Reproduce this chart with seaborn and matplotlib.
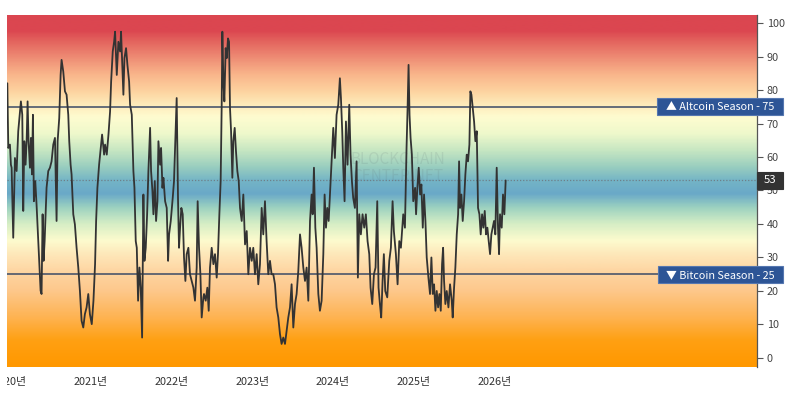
import numpy as np
import pandas as pd
import matplotlib
matplotlib.use("Agg")
import matplotlib.pyplot as plt
import matplotlib.dates as mdates
from matplotlib.colors import LinearSegmentedColormap
from matplotlib.patches import Rectangle
from matplotlib.transforms import Bbox, TransformedBbox, blended_transform_factory
import seaborn as sns

# ---------------- data ----------------
year_frac = [
    2019.967, 2019.979, 2020.000, 2020.012, 2020.021, 2020.041, 2020.062, 2020.083, 2020.103, 2020.124,
    2020.136, 2020.153, 2020.165, 2020.178, 2020.194, 2020.207, 2020.219, 2020.231, 2020.248, 2020.260,
    2020.273, 2020.285, 2020.297, 2020.314, 2020.330, 2020.351, 2020.363, 2020.380, 2020.392, 2020.405,
    2020.417, 2020.430, 2020.442, 2020.454, 2020.475, 2020.496, 2020.516, 2020.537, 2020.558, 2020.578,
    2020.591, 2020.611, 2020.628, 2020.640, 2020.661, 2020.682, 2020.702, 2020.723, 2020.735, 2020.752,
    2020.764, 2020.785, 2020.805, 2020.826, 2020.847, 2020.867, 2020.888, 2020.909, 2020.929, 2020.950,
    2020.971, 2020.991, 2021.012, 2021.033, 2021.053, 2021.066, 2021.082, 2021.103, 2021.124, 2021.140,
    2021.165, 2021.177, 2021.198, 2021.219, 2021.239, 2021.252, 2021.272, 2021.289, 2021.301, 2021.322,
    2021.342, 2021.363, 2021.375, 2021.392, 2021.404, 2021.417, 2021.437, 2021.454, 2021.475, 2021.487,
    2021.508, 2021.516, 2021.528, 2021.541, 2021.557, 2021.570, 2021.586, 2021.603, 2021.619, 2021.636,
    2021.652, 2021.665, 2021.681, 2021.698, 2021.714, 2021.735, 2021.747, 2021.764, 2021.776, 2021.793,
    2021.809, 2021.826, 2021.838, 2021.859, 2021.871, 2021.888, 2021.900, 2021.921, 2021.941, 2021.958,
    2021.970, 2021.991, 2022.016, 2022.032, 2022.049, 2022.065, 2022.082, 2022.094, 2022.107, 2022.123,
    2022.140, 2022.156, 2022.173, 2022.189, 2022.210, 2022.230, 2022.251, 2022.272, 2022.292, 2022.313,
    2022.325, 2022.342, 2022.359, 2022.375, 2022.396, 2022.404, 2022.425, 2022.445, 2022.462, 2022.478,
    2022.499, 2022.520, 2022.540, 2022.561, 2022.577, 2022.594, 2022.610, 2022.623, 2022.631, 2022.644,
    2022.656, 2022.672, 2022.685, 2022.701, 2022.714, 2022.726, 2022.739, 2022.755, 2022.767, 2022.784,
    2022.800, 2022.817, 2022.834, 2022.850, 2022.871, 2022.891, 2022.912, 2022.933, 2022.953, 2022.974,
    2022.995, 2023.015, 2023.036, 2023.057, 2023.077, 2023.098, 2023.119, 2023.139, 2023.160, 2023.180,
    2023.201, 2023.222, 2023.242, 2023.263, 2023.284, 2023.304, 2023.325, 2023.346, 2023.366, 2023.387,
    2023.408, 2023.428, 2023.449, 2023.470, 2023.490, 2023.511, 2023.532, 2023.552, 2023.573, 2023.594,
    2023.614, 2023.635, 2023.656, 2023.676, 2023.697, 2023.718, 2023.738, 2023.751, 2023.767, 2023.784,
    2023.800, 2023.821, 2023.841, 2023.862, 2023.883, 2023.899, 2023.916, 2023.932, 2023.949, 2023.965,
    2023.986, 2024.007, 2024.027, 2024.048, 2024.069, 2024.089, 2024.102, 2024.118, 2024.131, 2024.147,
    2024.164, 2024.184, 2024.205, 2024.221, 2024.238, 2024.254, 2024.275, 2024.296, 2024.312, 2024.329,
    2024.349, 2024.370, 2024.391, 2024.411, 2024.432, 2024.453, 2024.469, 2024.490, 2024.511, 2024.531,
    2024.552, 2024.568, 2024.585, 2024.601, 2024.618, 2024.634, 2024.651, 2024.676, 2024.701, 2024.721,
    2024.742, 2024.758, 2024.783, 2024.804, 2024.825, 2024.845, 2024.874, 2024.895, 2024.915, 2024.928,
    2024.940, 2024.952, 2024.965, 2024.981, 2024.998, 2025.019, 2025.031, 2025.047, 2025.064, 2025.081,
    2025.097, 2025.114, 2025.130, 2025.147, 2025.163, 2025.184, 2025.204, 2025.221, 2025.238, 2025.254,
    2025.271, 2025.287, 2025.304, 2025.320, 2025.337, 2025.353, 2025.366, 2025.378, 2025.394, 2025.411,
    2025.432, 2025.452, 2025.473, 2025.485, 2025.502, 2025.518, 2025.535, 2025.552, 2025.564, 2025.576,
    2025.593, 2025.609, 2025.626, 2025.642, 2025.659, 2025.675, 2025.692, 2025.704, 2025.717, 2025.733,
    2025.750, 2025.766, 2025.783, 2025.799, 2025.816, 2025.832, 2025.849, 2025.865, 2025.882, 2025.898,
    2025.915, 2025.931, 2025.948, 2025.964, 2025.981, 2025.997, 2026.014, 2026.031, 2026.047, 2026.060,
    2026.072, 2026.093, 2026.109, 2026.126, 2026.142,
]

index_values = [
    82.0, 62.7, 63.7, 57.7, 56.8, 35.9, 59.7, 55.8, 67.7, 73.6,
    76.6, 72.6, 43.9, 64.7, 57.7, 64.7, 76.6, 64.7, 56.8, 65.7,
    54.8, 72.6, 46.8, 52.8, 45.8, 34.9, 29.0, 20.1, 19.1, 42.9,
    29.0, 34.9, 42.9, 50.8, 55.8, 56.8, 58.7, 63.7, 65.7, 40.9,
    64.7, 71.6, 84.5, 89.0, 85.5, 79.6, 78.6, 72.6, 64.7, 57.7,
    54.8, 42.9, 39.9, 32.9, 27.0, 20.1, 11.1, 9.1, 13.1, 15.1,
    19.1, 13.1, 10.1, 17.1, 28.0, 40.9, 50.8, 57.7, 62.7, 66.7,
    60.7, 63.7, 60.7, 66.7, 73.6, 82.5, 91.5, 94.4, 97.4, 84.5,
    94.4, 91.5, 97.4, 86.5, 78.6, 89.5, 92.5, 87.5, 82.5, 75.6,
    72.6, 65.7, 55.8, 50.8, 34.9, 32.9, 17.1, 27.0, 21.0, 6.1,
    48.8, 29.0, 32.9, 42.9, 55.8, 68.7, 55.8, 49.8, 42.9, 52.8,
    40.9, 46.8, 64.7, 57.7, 62.7, 50.8, 53.8, 46.8, 44.8, 29.0,
    36.9, 40.9, 47.8, 52.8, 65.7, 77.6, 46.8, 32.9, 38.9, 44.8,
    42.9, 30.0, 23.0, 31.0, 32.9, 25.0, 23.0, 21.0, 17.1, 27.0,
    46.8, 32.9, 25.0, 12.1, 18.1, 19.1, 17.1, 21.0, 14.1, 27.0,
    32.9, 28.0, 31.0, 24.0, 31.0, 42.9, 52.8, 75.6, 97.4, 82.5,
    76.6, 92.5, 89.5, 95.4, 94.4, 74.6, 67.7, 53.8, 64.7, 68.7,
    61.7, 55.8, 52.8, 44.8, 40.9, 48.8, 33.9, 37.9, 25.0, 32.9,
    29.0, 32.9, 25.0, 31.0, 22.0, 28.0, 44.8, 36.9, 46.8, 34.9,
    25.0, 29.0, 25.0, 25.0, 22.0, 15.1, 12.1, 7.1, 4.2, 6.1,
    4.2, 8.1, 12.1, 15.1, 22.0, 9.1, 16.1, 19.1, 26.0, 36.9,
    32.9, 27.0, 23.0, 27.0, 17.1, 40.9, 48.8, 42.9, 56.8, 38.9,
    32.9, 19.1, 14.1, 17.1, 31.0, 48.8, 38.9, 44.8, 40.9, 48.8,
    58.7, 68.7, 59.7, 72.6, 75.6, 83.5, 77.6, 67.7, 56.8, 46.8,
    70.6, 57.7, 75.6, 60.7, 52.8, 47.8, 44.8, 58.7, 24.0, 42.9,
    36.9, 42.9, 38.9, 42.9, 34.9, 31.0, 21.0, 16.1, 25.0, 27.0,
    46.8, 21.0, 16.1, 12.1, 23.0, 31.0, 20.0, 18.1, 29.0, 32.9,
    46.8, 37.9, 31.0, 22.0, 34.9, 32.9, 42.9, 38.9, 62.7, 74.6,
    87.5, 72.6, 65.7, 60.7, 46.8, 50.8, 42.9, 50.8, 56.8, 48.8,
    51.8, 38.9, 48.8, 40.9, 30.0, 24.0, 19.1, 30.0, 19.1, 22.0,
    14.1, 20.0, 15.1, 19.1, 14.1, 28.0, 32.9, 23.0, 16.1, 20.0,
    15.1, 22.0, 17.1, 12.1, 21.0, 27.0, 36.9, 42.9, 58.7, 44.8,
    48.8, 40.9, 46.8, 54.8, 60.7, 58.7, 63.7, 79.6, 78.6, 74.6,
    70.6, 64.7, 67.7, 44.8, 42.9, 36.9, 42.9, 38.9, 43.9, 36.9,
    38.9, 34.9, 31.0, 36.9, 38.9, 40.9, 36.9, 56.8, 38.9, 31.0,
    42.9, 38.9, 48.8, 42.9, 53.0,
]

year_ticks = [2020, 2021, 2022, 2023, 2024, 2025, 2026]
year_tick_labels = [f"{y}년" for y in year_ticks]
value_ticks = [0, 10, 20, 30, 40, 50, 60, 70, 80, 90, 100]
altcoin_level = 75
bitcoin_level = 25
current_value = 53
altcoin_label = "▲ Altcoin Season - 75"
bitcoin_label = "▼ Bitcoin Season - 25"
watermark = "BLOCKCHAIN\nCENTER.NET"


def to_date(y):
    base = int(np.floor(y))
    return pd.Timestamp(base, 1, 1) + pd.Timedelta(days=(y - base) * 365.25)


df = pd.DataFrame({"date": [to_date(y) for y in year_frac], "value": index_values})

# ---------------- styling ----------------
sns.set_theme(style="white")
plt.rcParams["font.family"] = ["Noto Sans CJK KR", "DejaVu Sans"]

W, H = 800, 394
fig = plt.figure(figsize=(W / 100, H / 100), dpi=100)
fig.patch.set_facecolor("white")
ax_l, ax_r, ax_t, ax_b = 7, 757, 15, 367
ax = fig.add_axes([ax_l / W, 1 - ax_b / H, (ax_r - ax_l) / W, (ax_b - ax_t) / H])

YMIN, YMAX = -2.69, 102.39
XMIN, XMAX = to_date(2019.963), to_date(2029.256)

sns.lineplot(data=df, x="date", y="value", ax=ax, color="#333333", linewidth=1.3,
             estimator=None, zorder=5)

# background gradient
stops = [
    (YMIN, "#ff9800"), (5, "#ffa012"), (12, "#feb352"), (20, "#fdc88c"),
    (26, "#fed6a3"), (31, "#fee8ba"), (35, "#fdfbce"), (40, "#d6eec5"),
    (45, "#9bd1c0"), (49, "#6aa9c8"), (53, "#74b4c6"), (57, "#98cdbf"),
    (62, "#c6e6c2"), (67, "#eef8cb"), (72, "#fefcd0"), (76, "#feeab9"),
    (80, "#fdd29f"), (85, "#f9b48a"), (90, "#ee8b74"), (95, "#e3625d"),
    (98, "#db4650"), (YMAX, "#db4650"),
]
cmap = LinearSegmentedColormap.from_list(
    "season", [((v - YMIN) / (YMAX - YMIN), c) for v, c in stops])
grad = np.linspace(YMIN, YMAX, 600).reshape(-1, 1)
x0n, x1n = mdates.date2num(XMIN), mdates.date2num(XMAX)
ax.imshow(grad, extent=[x0n, x1n, YMIN, YMAX], origin="lower", aspect="auto",
          cmap=cmap, vmin=YMIN, vmax=YMAX, zorder=0, interpolation="bilinear")

ax.set_xlim(XMIN, XMAX)
ax.set_ylim(YMIN, YMAX)
ax.set_xlabel("")
ax.set_ylabel("")

# reference lines
ax.axhline(altcoin_level, color="#3b4a66", linewidth=1.1, zorder=4)
ax.axhline(bitcoin_level, color="#3b4a66", linewidth=1.1, zorder=4)
ax.axhline(current_value, color="#6e7f88", linewidth=0.9, linestyle=(0, (1, 1.5)), zorder=4)

# watermark
ax.text(to_date(2024.81), 56.7, watermark, ha="center", va="center", fontsize=11,
        color="#5a6a70", alpha=0.13, linespacing=0.95, zorder=3)

# axes
for s in ["left", "top", "bottom"]:
    ax.spines[s].set_visible(False)
ax.spines["right"].set_visible(True)
ax.spines["right"].set_color("#555555")
ax.spines["right"].set_linewidth(0.9)
ax.yaxis.tick_right()
ax.set_yticks(value_ticks)
ax.set_yticklabels([str(v) for v in value_ticks])
ax.tick_params(axis="y", which="both", right=True, left=False, direction="out", length=4,
               width=0.8, color="#555555", labelsize=7.8, labelcolor="#444444", pad=3)
ax.set_xticks([to_date(y) for y in year_ticks])
ax.set_xticklabels(year_tick_labels)
ax.tick_params(axis="x", length=0, pad=7, labelsize=7.8, labelcolor="#333333")
ax.grid(False)

# label boxes (right side)
trans = blended_transform_factory(ax.transAxes, ax.transData)
axw = ax_r - ax_l
ppu = (ax_b - ax_t) / (YMAX - YMIN)  # pixels per unit


def label_box(x_left_px, x_right_px, yc, h_px, text, fc, ec, fs):
    xl = (x_left_px - ax_l) / axw
    xr = (x_right_px - ax_l) / axw
    h = h_px / ppu
    ax.add_patch(Rectangle((xl, yc - h / 2), xr - xl, h, transform=trans, facecolor=fc,
                           edgecolor=ec, linewidth=0.8, clip_on=False, zorder=8))
    ax.text((xl + xr) / 2, yc, text, transform=trans, ha="center", va="center",
            color="white", fontsize=fs, clip_on=False, zorder=9)


label_box(657, 783, altcoin_level, 17, altcoin_label, "#2d5596", "#5577b0", 7.8)
label_box(658, 783, bitcoin_level - 0.2, 17, bitcoin_label, "#2d5596", "#5577b0", 7.8)
label_box(757, 783, current_value, 17, str(current_value), "#333333", "#333333", 8.2)

fig.canvas.draw()
clip = TransformedBbox(Bbox([[ax_l / W, 0], [1, 1]]), fig.transFigure)
for lbl in ax.get_xticklabels():
    lbl.set_clip_box(clip)
    lbl.set_clip_on(True)

fig.savefig("out.png", dpi=100, facecolor="white")
